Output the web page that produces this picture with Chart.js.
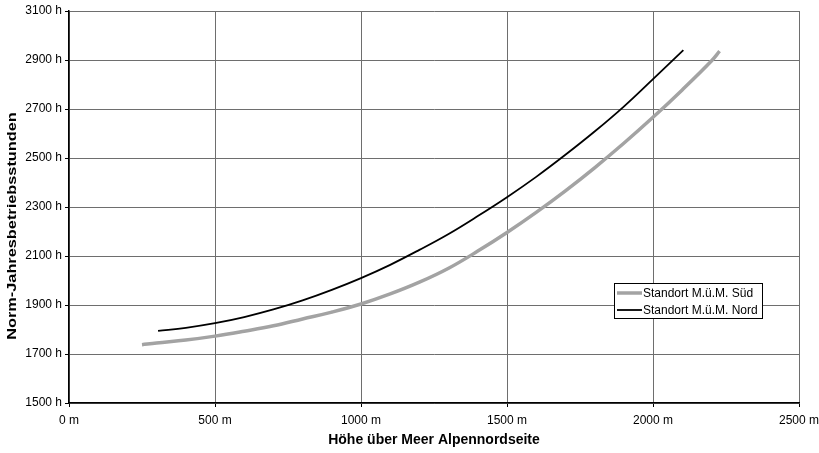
<!DOCTYPE html>
<html>
<head>
<meta charset="utf-8">
<script src="https://cdn.jsdelivr.net/npm/chart.js@4.4.1/dist/chart.umd.min.js"></script>
<style>
  html, body { margin: 0; padding: 0; background: #fff; }
  #wrap { width: 819px; height: 453px; }
</style>
</head>
<body>
<div id="wrap"><canvas id="grafico"></canvas></div>
<script>
// Höhe (m) und Norm-Jahresbetriebsstunden (h)
const hoeheSued = [250, 300, 400, 500, 600, 700, 800, 900, 1000, 1100, 1200, 1300, 1400, 1500, 1600, 1700, 1800, 1900, 2000, 2100, 2200, 2228];
const stundenSued = [1738, 1745, 1757, 1773, 1793, 1815, 1843, 1871, 1904, 1945, 1993, 2050, 2120, 2196, 2278, 2366, 2460, 2560, 2666, 2778, 2896, 2936];

const hoeheNord = [305, 400, 500, 600, 700, 800, 900, 1000, 1100, 1200, 1300, 1400, 1500, 1600, 1700, 1800, 1900, 2000, 2104];
const stundenNord = [1794, 1807, 1826, 1851, 1882, 1919, 1962, 2010, 2064, 2125, 2190, 2263, 2340, 2423, 2513, 2608, 2710, 2822, 2940];

const xTicks = [0, 500, 1000, 1500, 2000, 2500];
const yTicks = [1500, 1700, 1900, 2100, 2300, 2500, 2700, 2900, 3100];

const labelSued = 'Standort M.ü.M. Süd';
const labelNord = 'Standort M.ü.M. Nord';
const titelX = 'Höhe über Meer Alpennordseite';
const titelY = 'Norm-Jahresbetriebsstunden';

const font = 'Liberation Sans, Arial, sans-serif';

function punkte(xs, ys) {
  return xs.map((x, i) => ({ x: x, y: ys[i] }));
}

// Legende als Kasten im Diagramm, dazu der gestreckte Y-Titel
const legendeBox = {
  id: 'legendeBox',
  afterDraw(chart) {
    const ctx = chart.ctx;
    const x = 614, y = 283, w = 148, h = 35;
    ctx.save();
    ctx.fillStyle = '#fff';
    ctx.fillRect(x, y, w, h);
    ctx.strokeStyle = '#000';
    ctx.lineWidth = 1;
    ctx.strokeRect(x + 0.5, y + 0.5, w, h);
    ctx.font = '12px ' + font;
    ctx.textBaseline = 'middle';
    chart.data.datasets.forEach((ds, i) => {
      const ly = y + 10 + i * 17;
      ctx.strokeStyle = ds.borderColor;
      ctx.lineWidth = ds.borderWidth;
      ctx.beginPath();
      ctx.moveTo(x + 3, ly);
      ctx.lineTo(x + 28, ly);
      ctx.stroke();
      ctx.fillStyle = '#000';
      ctx.fillText(ds.label, x + 29, ly + 1);
    });
    ctx.restore();

    ctx.save();
    ctx.translate(13, 226);
    ctx.rotate(-Math.PI / 2);
    ctx.scale(1.36, 1);
    ctx.font = 'bold 12px ' + font;
    ctx.fillStyle = '#000';
    ctx.textAlign = 'center';
    ctx.textBaseline = 'middle';
    ctx.fillText(titelY, 0, 0);
    ctx.restore();
  }
};

const ctx = document.getElementById('grafico').getContext('2d');
new Chart(ctx, {
  type: 'line',
  data: {
    datasets: [{
      label: labelSued,
      data: punkte(hoeheSued, stundenSued),
      borderColor: '#a3a3a3',
      borderWidth: 3.5,
      pointRadius: 0,
      tension: 0.4,
      fill: false
    }, {
      label: labelNord,
      data: punkte(hoeheNord, stundenNord),
      borderColor: '#000',
      borderWidth: 1.8,
      pointRadius: 0,
      tension: 0.4,
      fill: false
    }]
  },
  options: {
    responsive: true,
    maintainAspectRatio: false,
    animation: false,
    layout: { padding: { top: 11, right: 0, left: 0, bottom: 0 } },
    plugins: {
      legend: { display: false },
      tooltip: { enabled: false }
    },
    scales: {
      x: {
        type: 'linear',
        min: 0,
        max: 2500,
        afterBuildTicks: axis => { axis.ticks = xTicks.map(v => ({ value: v })); },
        afterFit: axis => {
          axis.height = 50;
          axis.paddingRight = 20;
          axis.paddingLeft = 0;
        },
        ticks: {
          color: '#000',
          font: { family: font, size: 12 },
          padding: 6,
          maxRotation: 0,
          callback: v => v + ' m'
        },
        grid: { color: '#6e6e6e', lineWidth: 1, tickLength: 4, tickColor: '#000' },
        border: { color: '#000', width: 1.5 },
        title: {
          display: true,
          text: titelX,
          color: '#000',
          font: { family: font, size: 14, weight: 'bold' },
          padding: { top: 4, bottom: 4 }
        }
      },
      y: {
        min: 1500,
        max: 3100,
        afterBuildTicks: axis => { axis.ticks = yTicks.map(v => ({ value: v })); },
        afterFit: axis => { axis.width = 69; },
        ticks: {
          color: '#000',
          font: { family: font, size: 12 },
          padding: 3,
          callback: v => v + ' h'
        },
        grid: { color: '#6e6e6e', lineWidth: 1, tickLength: 4, tickColor: '#000' },
        border: { color: '#000', width: 1.5 }
      }
    }
  },
  plugins: [legendeBox]
});
</script>
</body>
</html>
